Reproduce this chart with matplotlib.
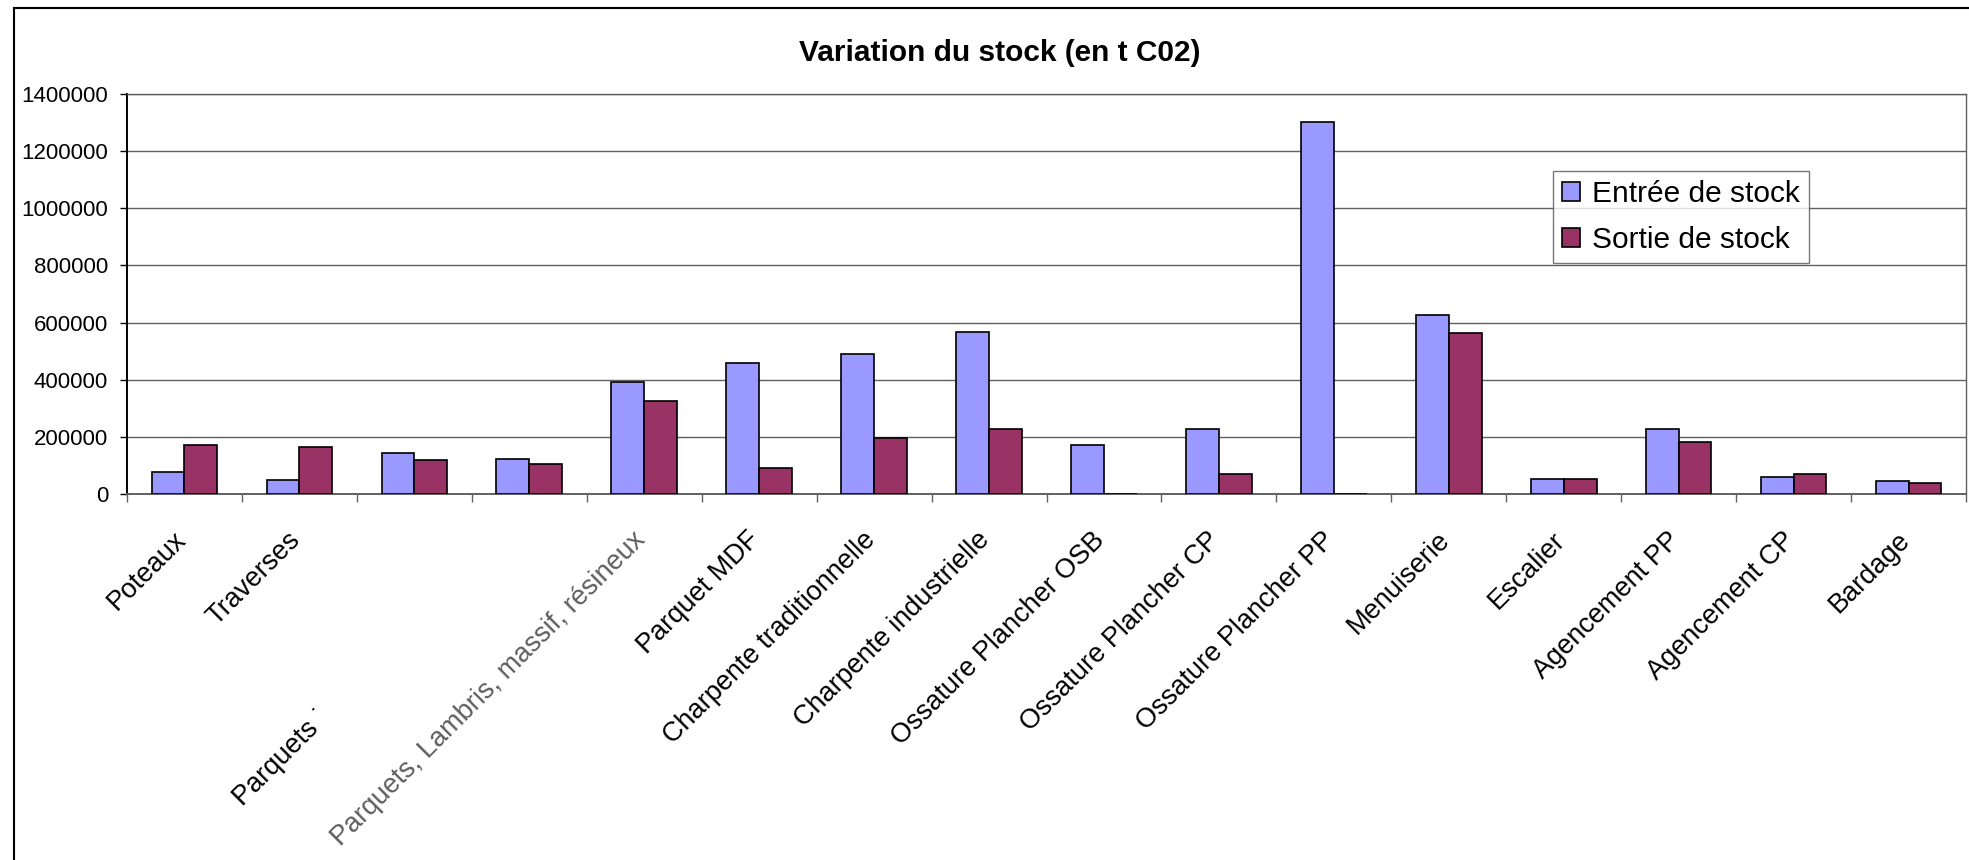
import matplotlib
matplotlib.use("Agg")
import matplotlib.pyplot as plt
from matplotlib.lines import Line2D
from matplotlib.patches import Patch
import numpy as np

plt.rcParams['font.family'] = ['Liberation Sans', 'DejaVu Sans']

# ---- data ----
categories = [
    "Poteaux",
    "Traverses",
    "",
    "Parquets \u02d9",
    "Parquets, Lambris, massif, résineux",
    "Parquet MDF",
    "Charpente traditionnelle",
    "Charpente industrielle",
    "Ossature Plancher OSB",
    "Ossature Plancher CP",
    "Ossature Plancher PP",
    "Menuiserie",
    "Escalier",
    "Agencement PP",
    "Agencement CP",
    "Bardage",
]
entree = [78000, 49000, 145000, 124000, 392000, 458000, 491000, 568000,
          173000, 227000, 1302000, 628000, 52000, 229000, 58000, 47000]
sortie = [170000, 163000, 118000, 105000, 327000, 90000, 196000, 227000,
          0, 70000, 0, 562000, 52000, 183000, 71000, 40000]
series_names = ["Entrée de stock", "Sortie de stock"]
y_ticks = [0, 200000, 400000, 600000, 800000, 1000000, 1200000, 1400000]
title = "Variation du stock (en t C02)"

# ---- styling ----
W, H, DPI = 1969, 860, 100
BLUE = "#9999FF"
MAROON = "#993366"
GRID = "#606060"

fig = plt.figure(figsize=(W / DPI, H / DPI), dpi=DPI)
fig.patch.set_facecolor("white")

# plot area in pixel coordinates
left_px, right_px, top_px, bottom_px = 127, 1966, 94, 494
ax = fig.add_axes([left_px / W, 1 - bottom_px / H,
                   (right_px - left_px) / W, (bottom_px - top_px) / H])

x = np.arange(len(categories))
w = 1 / 3.5  # gap width 150 %
ax.bar(x - w / 2, entree, w, color=BLUE, edgecolor="black", linewidth=1.2,
       zorder=3, label=series_names[0])
ax.bar(x + w / 2, sortie, w, color=MAROON, edgecolor="black", linewidth=1.2,
       zorder=3, label=series_names[1])

ax.set_xlim(-0.5, len(categories) - 0.5)
ax.set_ylim(0, 1400000)
ax.set_yticks(y_ticks)
ax.set_yticklabels([str(v) for v in y_ticks], fontsize=16)
ax.yaxis.grid(True, color=GRID, linewidth=1.0, zorder=0)
ax.set_axisbelow(True)

# category boundary tick marks
ax.set_xticks(np.arange(len(categories) + 1) - 0.5)
ax.set_xticklabels([])
ax.tick_params(axis="x", direction="out", length=5.8, width=1.0, color=GRID)
ax.tick_params(axis="y", direction="out", length=5, width=1.0, color="black",
               pad=8.6)

for side in ("top", "right"):
    ax.spines[side].set_color(GRID)
    ax.spines[side].set_linewidth(1.0)
ax.spines["left"].set_color("black")
ax.spines["left"].set_linewidth(1.4)
ax.spines["bottom"].set_color(GRID)
ax.spines["bottom"].set_linewidth(1.4)

# rotated category labels
label_offsets = {3: (-200, -177)}
label_colors = {4: "#5e5e5e"}
for i, lab in enumerate(categories):
    if not lab:
        continue
    dx, dy = label_offsets.get(i, (0, 0))
    ax.annotate(lab, xy=(i, 0), xycoords=ax.get_xaxis_transform(),
                xytext=(-12 + dx, -33 + dy), textcoords="offset pixels",
                rotation=45, rotation_mode="anchor", ha="right", va="top",
                fontsize=19.5, color=label_colors.get(i, "black"),
                annotation_clip=False)

# legend
handles = [Patch(facecolor=BLUE, edgecolor="black", linewidth=1.2),
           Patch(facecolor=MAROON, edgecolor="black", linewidth=1.2)]
leg = ax.legend(handles, series_names, loc="upper left",
                bbox_to_anchor=(1553 / W, 1 - 171 / H),
                bbox_transform=fig.transFigure, fontsize=21.5,
                frameon=True, fancybox=False, borderpad=0.3,
                labelspacing=0.6, handlelength=0.6, handleheight=0.6,
                handletextpad=0.4, borderaxespad=0)
leg.get_frame().set_edgecolor("#555555")
leg.get_frame().set_linewidth(1.0)

# title
fig.text(1000 / W, 1 - 53 / H, title, ha="center", va="center",
         fontsize=21.5, fontweight="bold")

# chart frame (left and top edges)
fig.add_artist(Line2D([14 / W, 14 / W], [0, 1 - 8 / H],
                      transform=fig.transFigure, color="black", linewidth=1.5))
fig.add_artist(Line2D([14 / W, 1], [1 - 8 / H, 1 - 8 / H],
                      transform=fig.transFigure, color="black", linewidth=1.5))

fig.savefig("out.png", dpi=DPI)
